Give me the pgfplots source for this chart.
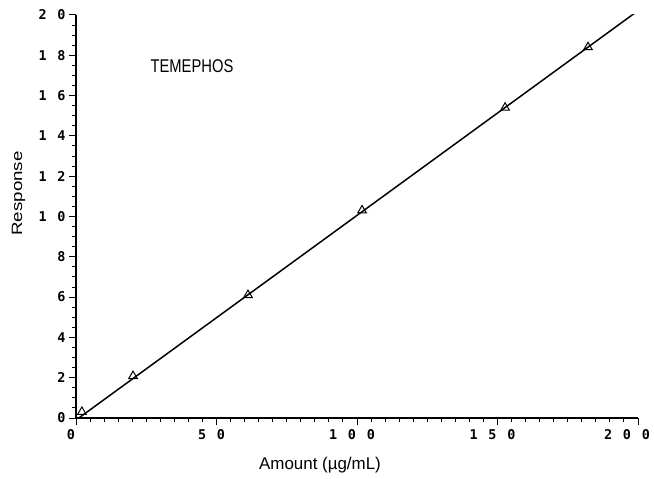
\documentclass[border=0pt]{standalone}
\usepackage{pgfplots}
\pgfplotsset{compat=1.18}
\usepackage{fontspec}
\setmainfont{Liberation Sans}
\newfontfamily\tickfont[LetterSpace=80]{DejaVu Sans Mono}
\begin{document}
\begin{tikzpicture}[x=1bp,y=1bp]
\path[use as bounding box] (-76bp,-61bp) rectangle (578bp,418bp);
\begin{axis}[
  at={(0,0)}, anchor=south west,
  scale only axis, width=562bp, height=403bp,
  xmin=0, xmax=200, ymin=0, ymax=20,
  axis x line*=bottom, axis y line*=left,
  axis line style={line width=1.4pt, -},
  xtick={0,50,...,200}, ytick={0,2,...,20},
  minor x tick num=9, minor y tick num=3,
  tick align=outside,
  major tick length=7bp, minor tick length=3.5bp,
  tick style={line width=1pt, black},
  /pgf/number format/assume math mode=true,
  ticklabel style={font=\tickfont\bfseries\fontsize{13.5}{14}\selectfont},
  xticklabel={\ifnum\ticknum=4\hspace*{-12bp}\fi\pgfmathprintnumber{\tick}},
  xticklabel style={yshift=-1bp, xshift=-5bp},
  xlabel={Amount (µg/mL)}, ylabel={Response},
  xlabel style={font=\fontsize{17}{18}\selectfont, at={(rel axis cs:0.5,0)}, anchor=center, xshift=-37bp, yshift=-47bp},
  ylabel style={font=\fontsize{15}{16}\selectfont, at={(rel axis cs:0,0.5)}, anchor=center, xshift=23bp, yshift=57.5bp, xscale=1.25},
]
\addplot[black, line width=1.5pt, mark=none] coordinates {(1,0) (198.9,20.1)};
\addplot[only marks, black, mark=triangle, mark size=5bp, mark options={line width=1pt}] coordinates {
(2.1,0.3) (20.3,2.08) (61.2,6.1) (101.8,10.3) (152.7,15.4) (182.2,18.4)};
\node[anchor=west, font=\fontsize{14.8}{16}\selectfont, yscale=1.25] at (axis cs:25.3,17.47) {TEMEPHOS};
\end{axis}
\end{tikzpicture}
\end{document}
